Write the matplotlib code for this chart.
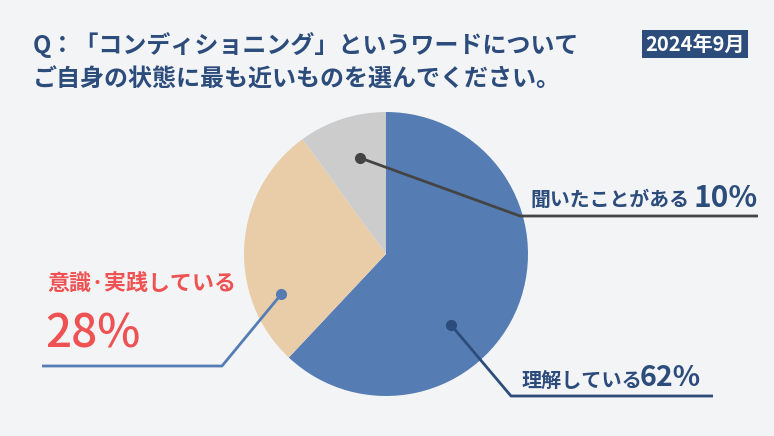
import numpy as np
import matplotlib
matplotlib.use("Agg")
import matplotlib.pyplot as plt

plt.rcParams['font.family'] = ['Noto Sans CJK JP', 'DejaVu Sans']

# data
labels = ['理解している', '意識·実践している', '聞いたことがある']
values = [62, 28, 10]
colors = ['#557db3', '#e8cda8', '#cccccc']
title_lines = ['Q：「コンディショニング」というワードについて',
               'ご自身の状態に最も近いものを選んでください。']
date_tag = '2024年9月'

W, H = 774, 436
BG = '#f3f4f6'
NAVY = '#2c4c7c'
RED = '#ee5253'

def py(y):
    # pixel row (top down) -> data y
    return H - y

fig = plt.figure(figsize=(W / 100, H / 100), dpi=100, facecolor=BG)
ax = fig.add_axes([0, 0, 1, 1])
ax.set_xlim(0, W)
ax.set_ylim(0, H)
ax.set_aspect('equal')
ax.axis('off')

cx, cy, R = 386, py(254), 142
wedges, _ = ax.pie(values, colors=colors, startangle=90, counterclock=False,
                   center=(cx, cy), radius=R, wedgeprops=dict(linewidth=0))
ax.set_xlim(0, W)
ax.set_ylim(0, H)

def anchor(angle, frac):
    a = np.deg2rad(angle)
    return cx + R * frac * np.cos(a), cy + R * frac * np.sin(a)

# leader lines: (dot angle, radius frac, elbow point, line end, colour)
leaders = [
    (105, 0.70, (520, 216), 758, '#444444'),
    (-47.5, 0.68, (511, 396), 713, NAVY),
    (-159, 0.79, (222, 366), 42, '#557db3'),
]
for ang, fr, (ex, ey), end, c in leaders:
    dx, dy = anchor(ang, fr)
    ax.plot([dx, ex, end], [dy, py(ey), py(ey)], color=c, lw=2, solid_capstyle='butt', zorder=3)
    ax.plot(dx, dy, 'o', color=c, ms=7, zorder=4)

# title
ax.text(33, py(45), title_lines[0], fontsize=17.3, fontweight='bold', color=NAVY, va='center', ha='left')
ax.text(33, py(80), title_lines[1], fontsize=17.3, fontweight='bold', color=NAVY, va='center', ha='left')
ax.text(695, py(44), date_tag, fontsize=14.5, fontweight='bold', color='white', va='center', ha='center',
        bbox=dict(boxstyle='square,pad=0.15', fc=NAVY, ec='none'))

# labels
ax.text(530, py(199), labels[2], fontsize=14.3, fontweight='bold', color=NAVY, va='center', ha='left')
ax.text(694, py(198), f'{values[2]}%', fontsize=21.5, fontweight='bold', color=NAVY, va='center', ha='left')
ax.text(522, py(380), labels[0], fontsize=14.5, fontweight='bold', color=NAVY, va='center', ha='left')
ax.text(640, py(378), f'{values[0]}%', fontsize=20.5, fontweight='bold', color=NAVY, va='center', ha='left')
ax.text(47, py(283), labels[1], fontsize=15.8, fontweight='bold', color=RED, va='center', ha='left')
ax.text(45, py(334), f'{values[1]}%', fontsize=33, fontweight='medium', color=RED, va='center', ha='left')

fig.savefig('out.png', dpi=100, facecolor=BG)
